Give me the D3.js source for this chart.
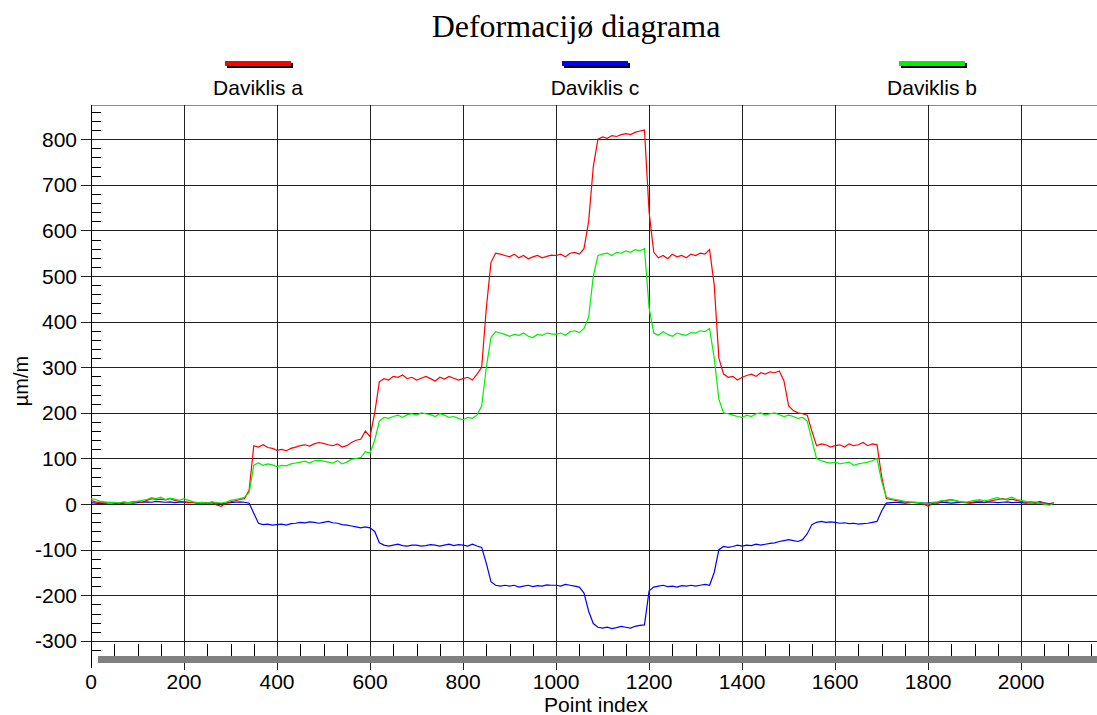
<!DOCTYPE html>
<html>
<head>
<meta charset="utf-8">
<script src="https://cdn.jsdelivr.net/npm/d3@7"></script>
<style>
body { margin: 0; background: #fff; }
svg { display: block; }
</style>
</head>
<body>
<div id="chart-area"></div>
<script>
// sample points every 10 indices (µm/m)
let pointIndex = d3.range(0, 2071, 10);

let davA = [
  8, 5, 3, 2, 4, 3, 2, 4, 3, 5,
  6, 4, 8, 12, 10, 11, 9, 12, 8, 6,
  5, 3, 4, 2, 3, 1, 4, -2, -5, 2,
  5, 7, 10, 12, 30, 128, 125, 130, 124, 122,
  118, 120, 117, 122, 125, 128, 130, 127, 132, 135,
  133, 130, 128, 132, 125, 128, 135, 140, 142, 160,
  148, 200, 268, 275, 272, 280, 278, 283, 275, 278,
  272, 276, 280, 275, 270, 278, 274, 280, 276, 272,
  275, 278, 272, 285, 300, 430, 530, 550, 548, 545,
  542, 548, 540, 545, 538, 542, 545, 540, 543, 546,
  545, 548, 542, 550, 552, 548, 560, 620, 740, 800,
  805, 802, 808, 806, 810, 812, 810, 815, 818, 820,
  640, 552, 540, 545, 538, 548, 542, 545, 540, 548,
  545, 550, 548, 558, 480, 320, 285, 278, 280, 272,
  278, 282, 285, 280, 288, 285, 290, 288, 292, 270,
  215, 205, 200, 198, 195, 160, 128, 132, 130, 125,
  128, 130, 125, 132, 128, 130, 135, 128, 132, 130,
  60, 12, 10, 8, 6, 5, 4, 3, 2, 0,
  -5, 2, 4, 6, 8, 10, 7, 5, 4, 3,
  5, 7, 4, 6, 8, 10, 12, 9, 11, 8,
  6, 4, 5, 3, 6, 2, 0, 3
];

let davC = [
  3, 2, 1, 2, 3, 2, 1, 2, 3, 2,
  3, 4, 5, 4, 6, 5, 4, 5, 3, 4,
  5, 4, 3, 2, 3, 2, 3, 2, 1, 2,
  3, 4, 5, 4, 2, -20, -42, -45, -44, -46,
  -45, -44, -46, -43, -42, -40, -41, -39, -40, -42,
  -40, -38, -41, -42, -45, -46, -48, -50, -52, -50,
  -52, -60, -85, -90, -92, -90, -88, -91, -92, -90,
  -90, -92, -91, -89, -90, -92, -90, -88, -91, -89,
  -90, -92, -88, -92, -95, -130, -170, -178, -180, -178,
  -180, -178, -182, -180, -178, -181, -179, -180, -177, -178,
  -178, -180, -176, -178, -180, -182, -195, -235, -262, -270,
  -272, -270, -273, -271, -268, -270, -272, -268, -266, -265,
  -190, -182, -180, -178, -181, -180, -182, -179, -180, -178,
  -180, -178, -176, -178, -150, -100, -93, -95, -93, -90,
  -92, -90, -91, -88, -90, -88, -86, -85, -82, -80,
  -78, -80, -82, -78, -65, -45, -40, -38, -40, -39,
  -40, -42, -41, -43, -42, -44, -43, -42, -40, -38,
  -15, 2, 3, 4, 3, 2, 3, 4, 3, 2,
  2, 3, 2, 4, 3, 2, 3, 4, 3, 2,
  3, 4, 3, 5, 4, 3, 4, 5, 3, 4,
  3, 2, 3, 2, 3, 2, 1, 2
];

let davB = [
  12, 10, 6, 5, 3, 4, 2, 5, 3, 4,
  6, 8, 10, 14, 12, 15, 10, 13, 11, 8,
  12, 8, 5, 3, 4, 2, 5, 3, 2, 4,
  8, 10, 12, 15, 25, 85, 90, 85, 88, 86,
  82, 85, 84, 88, 90, 92, 94, 90, 95, 96,
  94, 92, 90, 95, 88, 92, 98, 100, 102, 115,
  112, 140, 182, 190, 188, 192, 195, 190, 196, 198,
  195, 200, 198, 196, 192, 198, 195, 190, 192, 188,
  185, 190, 188, 195, 215, 300, 365, 378, 375, 372,
  368, 372, 370, 375, 368, 365, 372, 370, 375, 373,
  372, 375, 370, 378, 380, 376, 385, 410, 500, 545,
  548, 550, 545, 552, 550, 555, 552, 558, 555, 560,
  430, 375, 370, 378, 372, 368, 375, 372, 370, 376,
  375, 380, 378, 385, 320, 230, 200, 198, 195, 192,
  190, 195, 192, 198, 200, 195, 198, 200, 196, 192,
  195, 192, 188, 190, 182, 140, 100, 95, 92, 90,
  92, 88, 90, 92, 85, 88, 90, 92, 95, 100,
  50, 15, 12, 10, 8, 6, 5, 4, 3, 2,
  0, 4, 5, 8, 6, 9, 7, 5, 4, 6,
  8, 10, 7, 9, 12, 14, 10, 12, 15, 10,
  8, 6, 4, 5, 2, 0, -3, 2
];

let seriesNames = ["Daviklis a", "Daviklis c", "Daviklis b"];
let seriesColors = ["#ff0000", "#0000ff", "#00ee00"];

let xMajor = d3.range(0, 2001, 200);
let yMajor = d3.range(-300, 801, 100);

let width = 1097, height = 715;
let plotLeft = 91, plotRight = 1097, plotTop = 105, plotBottom = 655.5;

let svg = d3.select("#chart-area").append("svg")
    .attr("width", width)
    .attr("height", height);

let x = d3.scaleLinear().domain([0, 2163]).range([plotLeft, plotRight]);
let y = d3.scaleLinear().domain([-332, 875]).range([plotBottom, plotTop]);

let font = "'Liberation Sans', Arial, sans-serif";

// title
svg.append("text")
    .attr("x", 576).attr("y", 37)
    .attr("text-anchor", "middle")
    .attr("font-family", "'Liberation Serif', 'Times New Roman', serif")
    .attr("font-size", 32)
    .text("Deformacijø diagrama");

// legend
let legend = svg.selectAll(".legend")
    .data(seriesNames)
    .enter().append("g")
    .attr("class", "legend")
    .attr("transform", (d, i) => "translate(" + (258 + i * 337) + ",0)");

legend.append("rect")
    .attr("x", -31).attr("y", 63)
    .attr("width", 66).attr("height", 5)
    .attr("fill", "#000");
legend.append("rect")
    .attr("x", -33).attr("y", 61)
    .attr("width", 66).attr("height", 5)
    .attr("fill", (d, i) => seriesColors[i]);
legend.append("text")
    .attr("y", 95)
    .attr("text-anchor", "middle")
    .attr("font-family", font)
    .attr("font-size", 21)
    .text(d => d);

let grid = svg.append("g").attr("shape-rendering", "crispEdges");

// top frame
grid.append("line")
    .attr("x1", plotLeft).attr("x2", plotRight)
    .attr("y1", plotTop).attr("y2", plotTop)
    .attr("stroke", "#888");

// horizontal grid
grid.selectAll(".hgrid")
    .data(yMajor)
    .enter().append("line")
    .attr("x1", plotLeft - 10).attr("x2", plotRight)
    .attr("y1", d => Math.round(y(d)) + 0.5).attr("y2", d => Math.round(y(d)) + 0.5)
    .attr("stroke", "#222");

// vertical grid
grid.selectAll(".vgrid")
    .data(xMajor.filter(d => d > 0))
    .enter().append("line")
    .attr("x1", d => Math.round(x(d)) + 0.5).attr("x2", d => Math.round(x(d)) + 0.5)
    .attr("y1", plotTop).attr("y2", 670)
    .attr("stroke", "#222");

// minor ticks y
grid.selectAll(".ymin")
    .data(d3.range(-320, 861, 20).filter(d => d % 100 != 0))
    .enter().append("line")
    .attr("x1", plotLeft).attr("x2", plotLeft + 10)
    .attr("y1", d => Math.round(y(d)) + 0.5).attr("y2", d => Math.round(y(d)) + 0.5)
    .attr("stroke", "#000");

// minor ticks x
grid.selectAll(".xmin")
    .data(d3.range(50, 2151, 50).filter(d => d % 200 != 0))
    .enter().append("line")
    .attr("x1", d => Math.round(x(d)) + 0.5).attr("x2", d => Math.round(x(d)) + 0.5)
    .attr("y1", 644).attr("y2", 656)
    .attr("stroke", "#000");

// gray bar under axis
grid.append("rect")
    .attr("x", 98).attr("y", 656)
    .attr("width", plotRight - 98).attr("height", 7)
    .attr("fill", "#808080");

// y axis line
grid.append("line")
    .attr("x1", plotLeft + 0.5).attr("x2", plotLeft + 0.5)
    .attr("y1", plotTop).attr("y2", 668)
    .attr("stroke", "#000");

// tick labels
svg.selectAll(".ylab")
    .data(yMajor)
    .enter().append("text")
    .attr("x", 77).attr("y", d => y(d) + 7.5)
    .attr("text-anchor", "end")
    .attr("font-family", font)
    .attr("font-size", 21)
    .text(d => d);

svg.selectAll(".xlab")
    .data(xMajor)
    .enter().append("text")
    .attr("x", d => x(d)).attr("y", 689)
    .attr("text-anchor", "middle")
    .attr("font-family", font)
    .attr("font-size", 21)
    .text(d => d);

svg.append("text")
    .attr("x", 596).attr("y", 712)
    .attr("text-anchor", "middle")
    .attr("font-family", font)
    .attr("font-size", 21)
    .text("Point index");

svg.append("text")
    .attr("transform", "translate(28,381) rotate(-90)")
    .attr("text-anchor", "middle")
    .attr("font-family", font)
    .attr("font-size", 20)
    .text("µm/m");

// series lines
let line = d3.line()
    .x((d, i) => x(pointIndex[i]))
    .y(d => y(d));

let drawOrder = [[davC, 1], [davA, 0], [davB, 2]];
drawOrder.forEach(s => {
    svg.append("path")
        .datum(s[0])
        .attr("d", line)
        .attr("fill", "none")
        .attr("stroke", seriesColors[s[1]])
        .attr("stroke-width", 1.2);
});
</script>
</body>
</html>
